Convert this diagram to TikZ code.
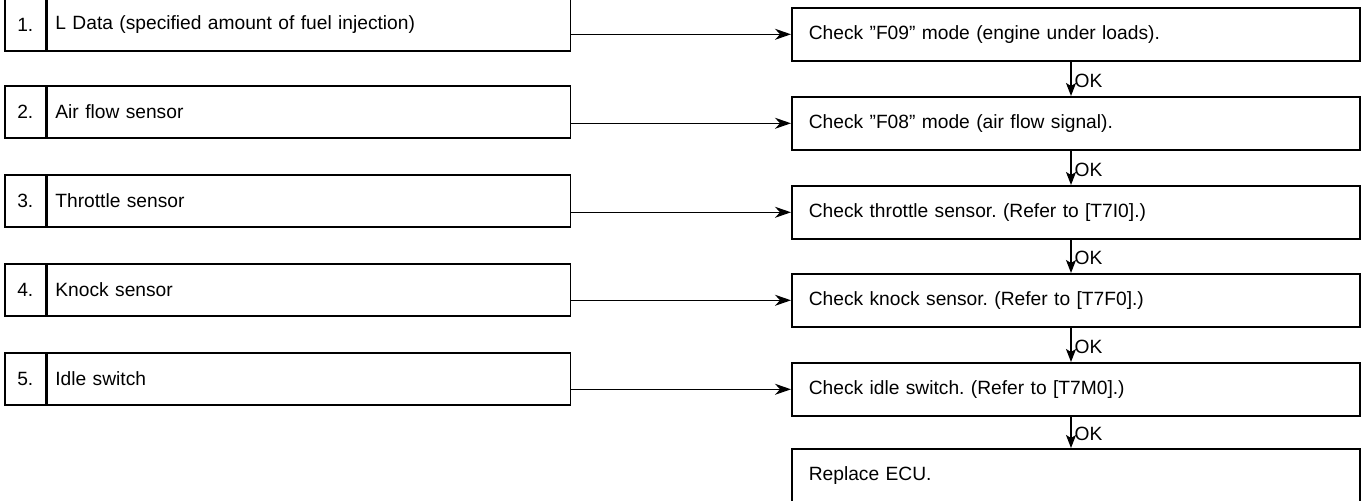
\documentclass[tikz,border=0pt]{standalone}
\usepackage{fontspec}
\setmainfont{Liberation Sans}
\usetikzlibrary{arrows.meta}
\frenchspacing
\begin{document}
\begin{tikzpicture}[x=0.5pt,y=-0.5pt,
  every node/.style={font=\fontsize{9.6pt}{11pt}\selectfont},
  box/.style={draw,line width=0.8pt,rectangle,inner sep=0pt},
  numcell/.style={box,minimum width=20.5pt,minimum height=26pt,anchor=north west},
  leftcell/.style={box,minimum height=26pt,text width=253.5pt,inner xsep=4pt,align=left,anchor=north west},
  rightcell/.style={box,minimum height=26.5pt,text width=267pt,inner xsep=8.5pt,align=left,anchor=north west},
  harrow/.style={draw,line width=0.7pt,-{Stealth[length=8pt,width=5.5pt,inset=2.5pt]}},
  varrow/.style={draw,line width=0.7pt,-{Stealth[length=6.5pt,width=5pt,inset=1.5pt]}},
  oklabel/.style={right,inner sep=1.5pt,yshift=-1pt}]
\useasboundingbox (0,0) rectangle (1363,501);
% left column
\node[numcell] (n1) at (4,-2) {1.};
\node[leftcell] (l1) at (n1.north east) {L Data (specified amount of fuel injection)};
\node[numcell] (n2) at (4,85) {2.};
\node[leftcell] (l2) at (n2.north east) {Air flow sensor};
\node[numcell] (n3) at (4,174) {3.};
\node[leftcell] (l3) at (n3.north east) {Throttle sensor};
\node[numcell] (n4) at (4,263) {4.};
\node[leftcell] (l4) at (n4.north east) {Knock sensor};
\node[numcell] (n5) at (4,352) {5.};
\node[leftcell] (l5) at (n5.north east) {Idle switch};
% right column
\node[rightcell] (r1) at (791,7) {Check ''F09'' mode (engine under loads).};
\node[rightcell] (r2) at (791,96) {Check ''F08'' mode (air flow signal).};
\node[rightcell] (r3) at (791,185) {Check throttle sensor. (Refer to [T7I0].)};
\node[rightcell] (r4) at (791,273) {Check knock sensor. (Refer to [T7F0].)};
\node[rightcell] (r5) at (791,362) {Check idle switch. (Refer to [T7M0].)};
\node[rightcell] (r6) at (791,448) {Replace ECU.};
% horizontal arrows
\foreach \i in {1,...,5}{
  \draw[harrow] (r\i.west -| l\i.east) -- (r\i.west);
}
% vertical arrows
\foreach \i/\j in {1/2,2/3,3/4,4/5,5/6}{
  \draw[varrow] ([xshift=140pt]r\i.south west) -- ([xshift=140pt]r\j.north west) node[midway,oklabel]{OK};
}
\end{tikzpicture}
\end{document}
